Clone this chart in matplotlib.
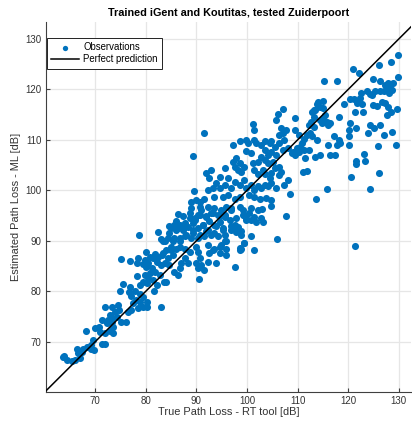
#!/usr/bin/env python3
"""
Scatter of ML estimated path loss vs ray-tracing path loss.
Trained on iGent and Koutitas, tested on Zuiderpoort.
"""

import numpy as np
import matplotlib.pyplot as plt

plt.rcParams['font.family'] = ['Liberation Sans', 'DejaVu Sans']

title = "Trained iGent and Koutitas, tested Zuiderpoort"
x_label = "True Path Loss - RT tool [dB]"
y_label = "Estimated Path Loss - ML [dB]"
ticks = [70, 80, 90, 100, 110, 120, 130]

# (true, estimated) pairs, grouped by region
obs_low = [
    (82.5, 91.8), (78.75, 91.2), (83.0, 90.3), (83.5, 89.9), (80.1, 87.9), (81.8, 87.4),
    (80.9, 86.9), (79.9, 86.2), (81.5, 86.6), (82.5, 86.9), (83.2, 87.2), (83.5, 87.6),
    (78.6, 86.6), (78.4, 85.6), (76.9, 86.1), (75.1, 86.4), (80.5, 85.6), (79.5, 85.4),
    (82.2, 85.8), (83.0, 85.2), (80.1, 84.9), (81.2, 84.6), (81.8, 83.9), (80.9, 83.6),
    (79.9, 83.3), (78.4, 83.1), (82.8, 83.3), (83.6, 81.9), (81.5, 82.3), (80.5, 82.6),
    (78.9, 81.3), (80.2, 81.6), (79.5, 81.9), (82.2, 81.3), (75.5, 81.4), (76.9, 80.8),
    (74.9, 80.1), (76.8, 79.8), (77.9, 80.0), (77.2, 79.2), (78.9, 79.6), (79.5, 79.0),
    (78.2, 78.3), (77.6, 77.7), (78.9, 77.9), (80.2, 78.0), (79.5, 77.0), (78.6, 76.7),
    (80.2, 77.0), (76.6, 76.0), (77.2, 76.3), (81.6, 80.1), (83.0, 77.0), (72.0, 77.0),
    (73.3, 77.0), (74.6, 77.3), (74.8, 76.3), (73.9, 76.0), (73.0, 75.3), (72.6, 74.4),
    (73.3, 74.0), (72.3, 73.7), (73.5, 73.0), (73.0, 72.2), (73.6, 71.7), (71.3, 74.4),
    (70.9, 73.0), (70.0, 72.8), (71.1, 72.0), (72.0, 71.7), (76.1, 74.0), (75.1, 73.9),
    (73.3, 74.7), (74.3, 75.0), (68.2, 72.2), (69.7, 70.4), (71.3, 69.7), (72.0, 69.7),
    (69.3, 69.5), (68.4, 69.1), (67.7, 68.7), (69.3, 68.7), (69.8, 68.5), (66.4, 68.7),
    (66.6, 67.8), (67.4, 68.0), (67.0, 66.9), (66.1, 66.4), (65.4, 66.2), (64.4, 66.4),
    (63.8, 67.3), (63.6, 67.1),
]

obs_mid = [
    (86.4, 95.3), (89.0, 96.5), (90.7, 96.8), (91.0, 96.1), (92.3, 96.8), (93.6, 96.5),
    (94.9, 96.1), (95.9, 96.8), (96.9, 96.5), (98.6, 96.8), (99.2, 96.1), (100.9, 96.5),
    (102.2, 96.1), (103.0, 96.3), (104.7, 96.9), (107.8, 95.0), (99.5, 95.1), (100.5, 95.5),
    (101.5, 94.8), (102.8, 94.5), (100.9, 94.2), (99.9, 94.2), (101.8, 93.8), (103.2, 93.7),
    (97.9, 94.5), (97.6, 93.2), (96.6, 94.2), (95.6, 94.8), (94.6, 93.8), (94.3, 95.1),
    (93.0, 95.5), (92.0, 94.8), (90.3, 95.1), (89.7, 94.2), (88.7, 94.5), (87.7, 93.5),
    (86.7, 93.2), (85.7, 93.2), (85.1, 92.5), (84.7, 91.5), (86.1, 92.2), (87.4, 92.2),
    (88.4, 92.8), (89.3, 92.2), (90.3, 92.5), (91.3, 93.2), (92.3, 92.2), (93.6, 93.2),
    (95.3, 92.5), (96.9, 92.2), (98.2, 92.8), (97.9, 91.8), (98.9, 91.2), (95.6, 91.2),
    (94.3, 90.9), (93.0, 91.2), (91.6, 90.9), (90.3, 90.5), (89.0, 90.5), (87.7, 90.9),
    (86.7, 89.9), (85.7, 90.5), (84.4, 90.5), (83.75, 89.9), (85.1, 88.9), (84.1, 88.2),
    (86.1, 88.5), (85.4, 87.2), (84.4, 86.6), (83.75, 85.6), (84.7, 85.2), (85.7, 83.9),
    (86.4, 83.3), (84.1, 81.9), (87.7, 88.5), (88.7, 87.9), (87.7, 86.6), (87.0, 85.6),
    (88.4, 85.6), (86.7, 84.6), (90.0, 85.6), (90.3, 84.6), (91.0, 85.2), (90.0, 88.9),
    (90.3, 87.9), (90.7, 86.6), (91.6, 84.3), (92.3, 85.9), (92.6, 87.6), (93.6, 88.5),
    (93.9, 85.6), (94.6, 87.6), (94.9, 89.2), (95.9, 88.5), (95.9, 87.2), (95.6, 89.9),
    (97.6, 84.9), (98.6, 88.2), (99.5, 89.5), (100.9, 90.9), (98.9, 88.5), (106.0, 90.3),
    (101.5, 88.2), (90.5, 82.5),
    (96.9, 96.2), (95.6, 95.2), (94.6, 94.9), (93.3, 95.5), (92.0, 94.9), (90.7, 95.2),
    (89.7, 94.5), (88.7, 95.5), (87.4, 94.9), (86.1, 93.9), (84.7, 92.9), (86.4, 92.5),
    (88.0, 92.9), (89.3, 93.5), (91.3, 93.2), (92.6, 93.9), (93.9, 92.9), (95.3, 92.2),
    (93.6, 91.6), (92.0, 91.9), (90.7, 91.2), (89.3, 91.6), (88.0, 91.2), (86.7, 90.6),
    (85.4, 89.9), (96.9, 92.9), (97.9, 92.2), (98.9, 91.9), (99.5, 89.6), (98.6, 88.6),
    (95.8, 89.9), (94.6, 88.9), (93.3, 88.3), (92.3, 89.2), (85.1, 88.3), (86.7, 88.9),
    (99.2, 95.2), (99.9, 94.5),
]

obs_upper = [
    (91.5, 111.3), (89.3, 106.8), (89.5, 99.8), (101.2, 113.1), (101.5, 112.0), (107.1, 116.1),
    (106.1, 115.1), (105.8, 114.0), (106.8, 112.3), (107.1, 111.3), (106.4, 111.0), (107.8, 112.0),
    (107.4, 110.0), (98.6, 109.8), (99.9, 110.0), (100.2, 109.3), (101.5, 110.0), (101.8, 109.3),
    (97.2, 108.9), (102.8, 109.0), (103.5, 109.7), (104.5, 109.3), (104.8, 109.8), (105.5, 108.7),
    (106.4, 109.3), (99.9, 107.8), (100.9, 107.4), (103.5, 108.0), (104.1, 107.0), (104.8, 107.7),
    (105.8, 107.0), (107.1, 108.0), (108.1, 108.4), (97.9, 106.4), (97.2, 105.7), (98.6, 105.4),
    (99.5, 104.7), (97.6, 104.7), (98.2, 104.1), (95.6, 104.5), (98.9, 103.7), (101.2, 105.4),
    (102.2, 105.7), (102.8, 106.7), (103.5, 106.0), (104.1, 105.4), (105.1, 105.7), (105.5, 104.4),
    (106.4, 104.7), (106.8, 103.7), (103.2, 104.1), (101.5, 104.1), (102.2, 103.2), (103.5, 103.2),
    (104.8, 103.4), (104.5, 102.4), (106.4, 103.1), (92.0, 103.4), (93.0, 104.1), (92.6, 102.4),
    (94.6, 102.7), (96.25, 102.4), (93.9, 101.4), (93.3, 100.4), (92.3, 100.1), (94.6, 100.4),
    (95.6, 101.1), (96.9, 100.4), (97.6, 101.7), (98.6, 101.1), (99.5, 102.1), (99.9, 100.4),
    (100.9, 101.1), (101.5, 100.1), (102.2, 100.8), (102.8, 100.4), (103.5, 101.1), (104.1, 100.8),
    (104.8, 101.4), (105.8, 100.4), (107.4, 101.1), (108.1, 102.1), (100.5, 99.1), (101.5, 98.8),
    (102.5, 98.4), (103.8, 98.6), (104.8, 98.1), (93.6, 98.8), (95.3, 98.8), (96.25, 99.1),
    (97.6, 98.4), (98.6, 98.8), (90.0, 98.1), (90.7, 97.8), (91.6, 98.3), (89.0, 97.8),
]

obs_high = [
    (129.9, 126.8), (128.4, 125.5), (126.1, 124.9), (120.9, 124.0), (122.2, 123.3), (129.8, 122.4),
    (115.3, 121.7), (117.8, 121.6), (124.8, 122.1), (126.3, 121.6), (127.8, 121.2), (128.9, 121.35),
    (128.3, 120.6), (127.3, 120.9), (127.6, 120.1), (128.6, 119.9), (128.0, 119.2), (127.0, 119.6),
    (126.3, 119.7), (125.3, 119.7), (124.3, 119.0), (123.7, 119.6), (122.5, 119.2), (124.7, 118.9),
    (122.4, 118.25), (121.7, 117.3), (120.4, 118.1), (121.05, 118.1), (122.7, 117.1), (124.9, 116.9),
    (125.7, 116.8), (126.6, 117.5), (127.3, 117.3), (127.8, 116.6), (128.4, 115.5), (127.6, 114.95),
    (129.7, 116.1), (121.4, 115.6), (122.9, 115.6), (119.2, 117.1), (118.1, 114.6), (115.0, 117.7),
    (114.1, 117.5), (114.5, 116.6), (113.8, 117.1), (113.2, 115.9), (112.8, 115.6), (113.5, 115.9),
    (115.1, 116.3), (115.5, 114.95), (115.1, 114.3), (114.5, 114.0), (114.8, 113.3), (115.8, 113.5),
    (116.1, 113.0), (116.4, 113.3), (113.2, 114.6), (112.6, 113.6), (112.2, 113.0), (113.2, 112.6),
    (112.5, 111.3), (111.8, 111.0), (112.8, 110.7), (113.8, 110.0), (109.5, 114.3), (109.5, 112.0),
    (110.2, 111.0), (111.2, 110.2), (110.9, 109.3), (110.5, 108.7), (109.9, 108.35), (109.2, 107.7),
    (108.9, 107.4), (110.2, 107.7), (109.5, 107.0), (111.2, 108.0), (112.2, 108.0), (113.5, 106.7),
    (114.5, 107.0), (116.1, 109.0), (117.1, 110.7), (118.1, 110.0), (118.4, 109.3), (117.8, 109.0),
    (116.4, 107.0), (117.4, 107.0), (120.1, 112.0), (120.4, 113.3), (121.6, 112.3), (120.1, 110.7),
    (120.1, 108.9), (124.3, 113.0), (126.3, 113.0), (125.0, 112.4), (124.0, 111.3), (127.0, 111.0),
    (128.6, 111.65), (125.9, 108.8), (129.4, 109.0), (123.2, 107.2), (121.6, 105.8), (123.4, 105.9),
    (121.6, 105.2), (111.5, 106.4), (111.05, 103.7), (111.8, 103.9), (120.6, 102.7), (126.0, 103.4),
    (115.8, 100.2), (124.3, 100.3), (113.7, 98.4), (108.55, 99.2), (121.4, 89.0),
]

x_lim = (60.28, 132.4)
y_lim = (60.16, 133.4)


def scatter():
    obs = np.array(obs_low + obs_mid + obs_upper + obs_high)
    true_pl, est_pl = obs[:, 0], obs[:, 1]

    fig = plt.figure(figsize=(4.12, 4.26), dpi=100)
    ax = fig.add_axes([0.1109, 0.0805, 0.8867, 0.8685])

    ax.scatter(true_pl, est_pl, s=26, c='#0072bd', linewidths=0,
               label='Observations', zorder=3)
    ax.plot([55, 140], [55, 140], color='black', lw=1.1,
            label='Perfect prediction', zorder=4)

    ax.set_xlim(*x_lim)
    ax.set_ylim(*y_lim)
    ax.set_xticks(ticks)
    ax.set_yticks(ticks)
    ax.grid(True, color='#e6e6e6', lw=0.9, zorder=0)
    ax.set_axisbelow(True)
    for side in ('top', 'right'):
        ax.spines[side].set_visible(False)
    for side in ('left', 'bottom'):
        ax.spines[side].set_color('#404040')
        ax.spines[side].set_linewidth(0.8)
    ax.tick_params(direction='in', length=3, width=0.8, color='#404040',
                   labelsize=7, labelcolor='#333333', pad=3)

    ax.set_xlabel(x_label, fontsize=7.9, color='#333333', labelpad=1)
    ax.set_ylabel(y_label, fontsize=7.9, color='#333333', labelpad=3)
    ax.set_title(title, fontsize=7.8, fontweight='bold', pad=4)

    leg = ax.legend(loc='upper left', bbox_to_anchor=(0.004, 0.956),
                    borderaxespad=0, fontsize=6.9, fancybox=False,
                    framealpha=1, edgecolor='#222222', markerscale=0.75,
                    handlelength=2.9, handletextpad=0.4, borderpad=0.45,
                    labelspacing=0.2)
    leg.get_frame().set_linewidth(0.7)

    fig.savefig('out.png', dpi=100)


scatter()
